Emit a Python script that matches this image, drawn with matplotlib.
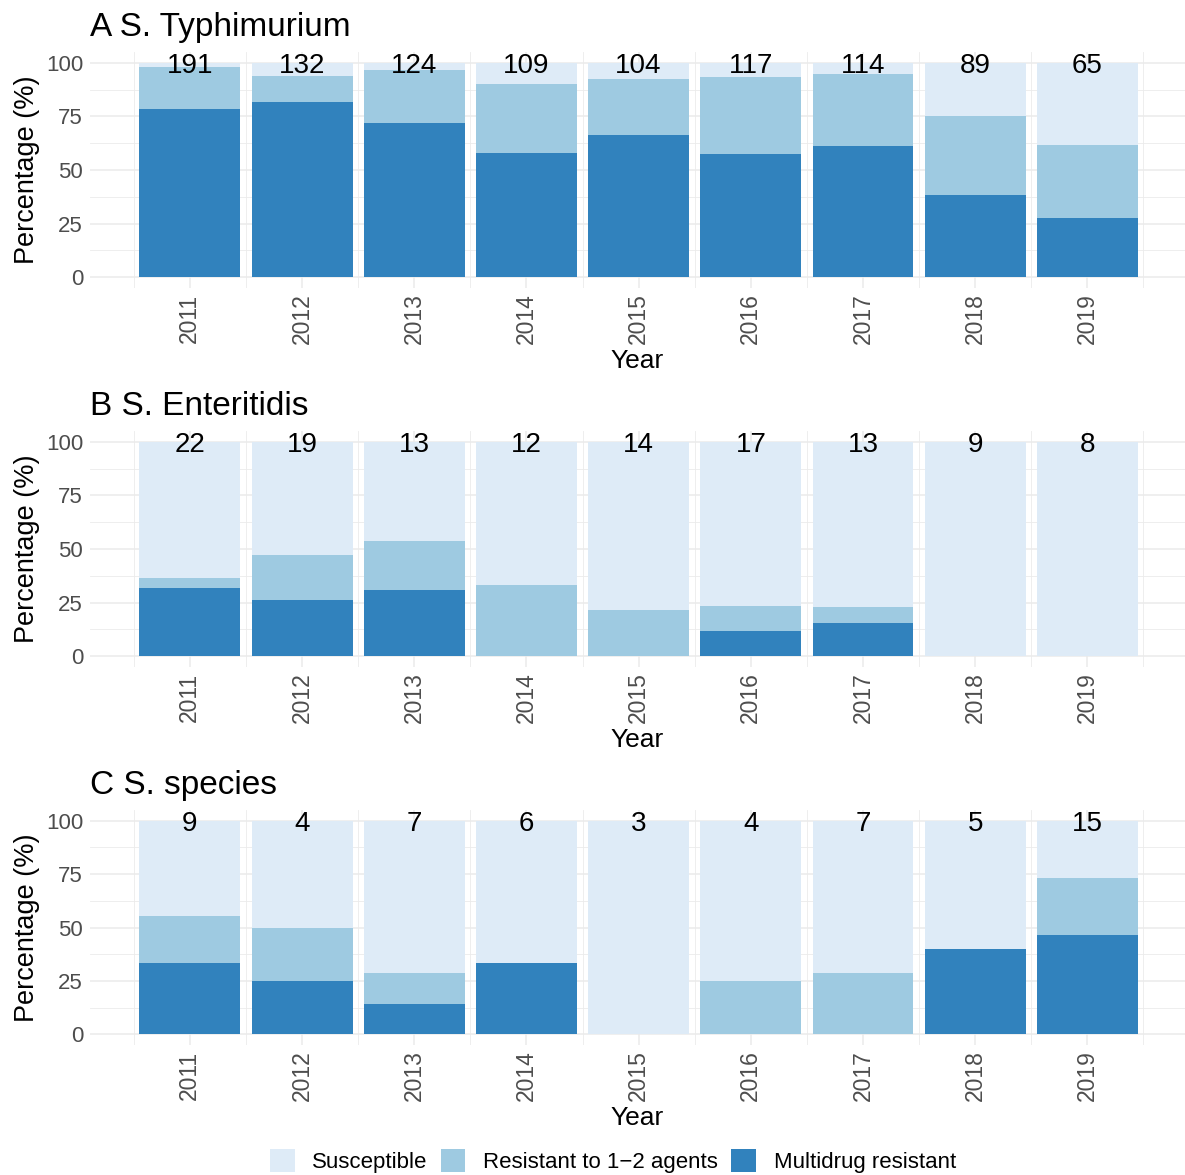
import numpy as np
import matplotlib
matplotlib.use("Agg")
from matplotlib import pyplot as plt
from matplotlib.patches import Patch

plt.rcParams['font.family'] = ['Liberation Sans', 'DejaVu Sans']

years = [2011, 2012, 2013, 2014, 2015, 2016, 2017, 2018, 2019]

# panel titles and isolate counts
titles = ['A S. Typhimurium', 'B S. Enteritidis', 'C S. species']
counts_a = [191, 132, 124, 109, 104, 117, 114, 89, 65]
counts_b = [22, 19, 13, 12, 14, 17, 13, 9, 8]
counts_c = [9, 4, 7, 6, 3, 4, 7, 5, 15]

# percentage multidrug resistant
mdr_a = [78.5, 81.8, 71.8, 57.8, 66.3, 57.3, 61.4, 38.2, 27.7]
mdr_b = [31.8, 26.3, 30.8, 0, 0, 11.8, 15.4, 0, 0]
mdr_c = [33.3, 25.0, 14.3, 33.3, 0, 0, 0, 40.0, 46.7]

# percentage resistant to 1-2 agents
r12_a = [19.4, 12.1, 25.0, 32.1, 26.0, 35.9, 33.3, 37.1, 33.8]
r12_b = [4.6, 21.1, 23.0, 33.3, 21.4, 11.8, 7.7, 0, 0]
r12_c = [22.3, 25.0, 14.3, 0, 0, 25.0, 28.6, 0, 26.6]

categories = ['Susceptible', 'Resistant to 1\u22122 agents', 'Multidrug resistant']
colors = ['#DEEBF7', '#9ECAE1', '#3182BD']

panels = [
    (titles[0], counts_a, mdr_a, r12_a),
    (titles[1], counts_b, mdr_b, r12_b),
    (titles[2], counts_c, mdr_c, r12_c),
]

W, H = 1185, 1175
fig = plt.figure(figsize=(W / 100, H / 100), dpi=100)

# panel top/bottom in pixels
boxes = [(52, 288), (431, 667), (810, 1045)]
left_px, right_px = 90, 1185
grid_col = '#EBEBEB'

for (title, counts, mdr, r12), (top, bot) in zip(panels, boxes):
    ax = fig.add_axes([left_px / W, 1 - bot / H, (right_px - left_px) / W, (bot - top) / H])
    mdr = np.array(mdr)
    r12 = np.array(r12)
    sus = 100 - mdr - r12

    for s in ax.spines.values():
        s.set_visible(False)
    ax.set_axisbelow(True)
    for y in [0, 25, 50, 75, 100]:
        ax.axhline(y, color=grid_col, lw=1.1, zorder=0)
    for y in [12.5, 37.5, 62.5, 87.5]:
        ax.axhline(y, color=grid_col, lw=0.6, zorder=0)
    for x in years:
        ax.axvline(x, color=grid_col, lw=1.1, zorder=0)
    for x in np.arange(2010.5, 2020, 1.0):
        ax.axvline(x, color=grid_col, lw=0.6, zorder=0)

    ax.bar(years, mdr, width=0.9, color=colors[2], zorder=2)
    ax.bar(years, r12, width=0.9, bottom=mdr, color=colors[1], zorder=2)
    ax.bar(years, sus, width=0.9, bottom=mdr + r12, color=colors[0], zorder=2)

    for x, n in zip(years, counts):
        ax.text(x, 95, str(n), ha='center', va='baseline', fontsize=20, color='black', zorder=3)

    ax.set_xlim(2010.11, 2019.87)
    ax.set_ylim(-5, 105)
    ax.set_yticks([0, 25, 50, 75, 100])
    ax.set_xticks(years)
    ax.set_xticklabels([str(y) for y in years], rotation=90, fontsize=16.5, color='#4D4D4D')
    ax.tick_params(axis='y', length=0, pad=5, labelsize=16, labelcolor='#4D4D4D')
    ax.tick_params(axis='x', length=0, pad=4)
    ax.set_ylabel('Percentage (%)', fontsize=19.5, labelpad=4)
    ax.set_xlabel('Year', fontsize=19, labelpad=3)

    fig.text(90 / W, 1 - (top - 16) / H, title, fontsize=24, ha='left', va='baseline')

handles = [Patch(facecolor=c, edgecolor='none') for c in colors]
fig.legend(handles, categories, loc='center', bbox_to_anchor=(613 / W, 1 - 1161 / H),
           ncol=3, frameon=False, fontsize=16, handlelength=1.1, handleheight=1.2,
           handletextpad=0.8, columnspacing=0.6)

fig.savefig('out.png', dpi=100)
